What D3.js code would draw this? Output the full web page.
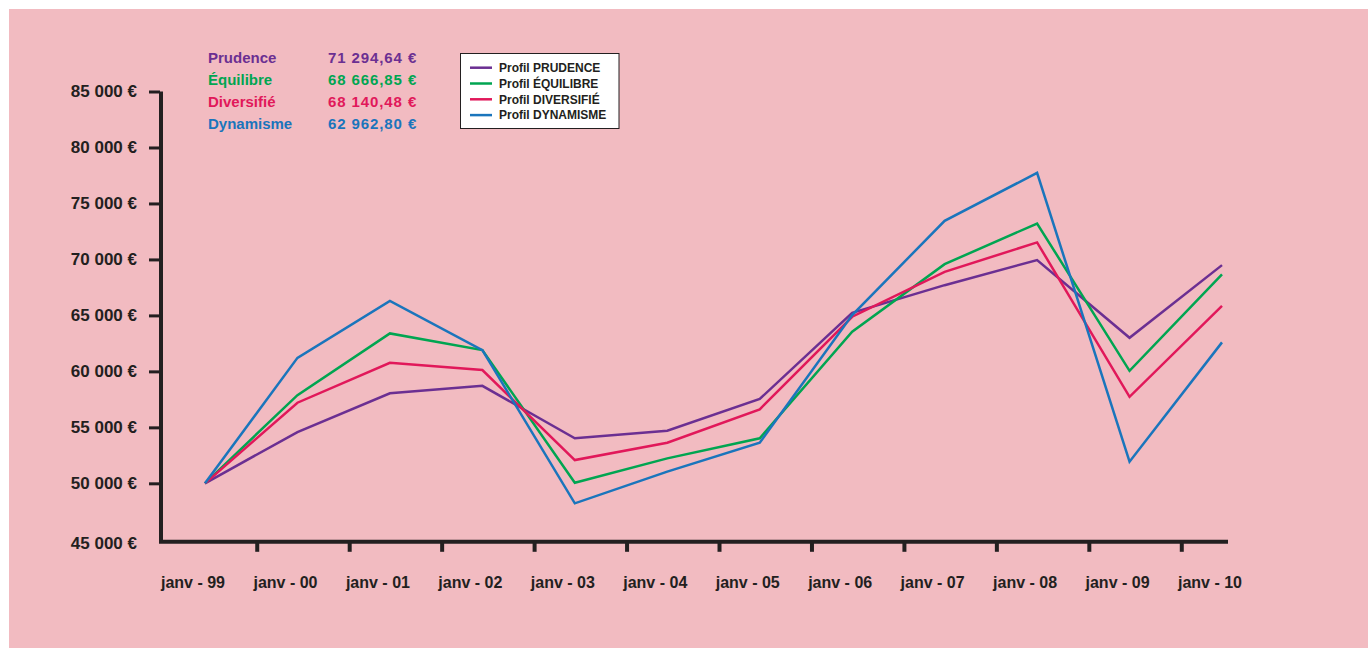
<!DOCTYPE html>
<html>
<head>
<meta charset="utf-8">
<script src="https://cdn.jsdelivr.net/npm/d3@7"></script>
<style>
    body { margin: 0; background: #fff; }
    svg { display: block; font-family: "Liberation Sans", Arial, sans-serif; font-weight: bold; }
</style>
</head>
<body>
<svg id="chart" width="1368" height="648"></svg>
<script>
const categories = ["janv - 99", "janv - 00", "janv - 01", "janv - 02", "janv - 03", "janv - 04",
    "janv - 05", "janv - 06", "janv - 07", "janv - 08", "janv - 09", "janv - 10"];

const prudence    = [50000, 54580, 58040, 58710, 54020, 54700, 57530, 65230, 67700, 69940, 63000, 69490];
const equilibre   = [50000, 57880, 63390, 61900, 50050, 52230, 54020, 63540, 69580, 73210, 60050, 68660];
const diversifie  = [50000, 57200, 60770, 60120, 52080, 53630, 56610, 64880, 68890, 71520, 57730, 65860];
const dynamisme   = [50000, 61210, 66300, 61900, 48210, 51040, 53630, 65030, 73450, 77730, 51930, 62590];

const seriesNames  = ["Prudence", "Équilibre", "Diversifié", "Dynamisme"];
const legendNames  = ["Profil PRUDENCE", "Profil ÉQUILIBRE", "Profil DIVERSIFIÉ", "Profil DYNAMISME"];
const finalValues  = ["71 294,64 €", "68 666,85 €", "68 140,48 €", "62 962,80 €"];
const colors       = ["#6b2f92", "#00a551", "#e1185a", "#1a75bc"];

const yTicks      = [45000, 50000, 55000, 60000, 65000, 70000, 75000, 80000, 85000];
const yTickLabels = ["45 000 €", "50 000 €", "55 000 €", "60 000 €", "65 000 €",
    "70 000 €", "75 000 €", "80 000 €", "85 000 €"];

const allSeries = [prudence, equilibre, diversifie, dynamisme];

const svg = d3.select("#chart");
const ink = "#231f20";

svg.append("rect")
    .attr("x", 9).attr("y", 9)
    .attr("width", 1359).attr("height", 639)
    .attr("fill", "#f2bbc1");

const x = d3.scalePoint().domain(categories).range([205, 1222]);
const y = d3.scaleLinear().domain([45000, 85000]).range([539.3, 91.5]);
const step = x.step();

// y axis
const yAxis = svg.append("g")
    .attr("transform", "translate(160,0)")
    .call(d3.axisLeft(y).tickValues(yTicks.slice(1)).tickSize(11).tickPadding(12)
        .tickFormat(function (d) { return yTickLabels[yTicks.indexOf(d)]; }));
yAxis.select(".domain").remove();
yAxis.selectAll(".tick line").attr("stroke", ink).attr("stroke-width", 3);
yAxis.selectAll(".tick text")
    .attr("fill", ink)
    .style("font-size", "17px")
    .style("font-weight", "bold")
    .style("font-family", "'Liberation Sans', Arial, sans-serif");

// 45 000 label sits on the x axis
svg.append("text")
    .attr("x", 137).attr("y", y(45000) + 4)
    .attr("dy", "0.32em")
    .attr("text-anchor", "end")
    .attr("fill", ink)
    .style("font-size", "17px")
    .text(yTickLabels[0]);

const axisY = y(45000) + 2.5;

// axis lines
svg.append("path")
    .attr("d", "M161," + y(85000) + "V" + axisY + "H1228")
    .attr("fill", "none")
    .attr("stroke", ink)
    .attr("stroke-width", 4);

// x ticks, offset between categories
svg.append("g").selectAll("line")
    .data(categories.slice(0, -1))
    .join("line")
    .attr("x1", function (d) { return x(d) + step * 0.565; })
    .attr("x2", function (d) { return x(d) + step * 0.565; })
    .attr("y1", axisY)
    .attr("y2", axisY + 10)
    .attr("stroke", ink)
    .attr("stroke-width", 4);

svg.append("g").selectAll("text")
    .data(categories)
    .join("text")
    .attr("x", function (d) { return x(d) - 12; })
    .attr("y", 588)
    .attr("text-anchor", "middle")
    .attr("fill", ink)
    .style("font-size", "16px")
    .text(function (d) { return d; });

// lines
const line = d3.line()
    .x(function (d, i) { return x(categories[i]); })
    .y(function (d) { return y(d); });

svg.append("g").selectAll("path")
    .data(allSeries)
    .join("path")
    .attr("d", line)
    .attr("fill", "none")
    .attr("stroke", function (d, i) { return colors[i]; })
    .attr("stroke-width", 2.5)
    .attr("stroke-linejoin", "miter");

// final values block
const info = svg.append("g");
seriesNames.forEach(function (name, i) {
    info.append("text")
        .attr("x", 208).attr("y", 63 + i * 21.9)
        .attr("fill", colors[i])
        .style("font-size", "15px")
        .text(name);
    info.append("text")
        .attr("x", 328).attr("y", 63 + i * 21.9)
        .attr("fill", colors[i])
        .style("font-size", "15px")
        .style("letter-spacing", "0.9px")
        .text(finalValues[i]);
});

// legend box
const legend = svg.append("g").attr("transform", "translate(460,53)");
legend.append("rect")
    .attr("x", 0.5).attr("y", 0.5)
    .attr("width", 158.5).attr("height", 75)
    .attr("fill", "#fff")
    .attr("stroke", ink)
    .attr("stroke-width", 1);

legendNames.forEach(function (name, i) {
    const ly = 14.7 + i * 15.8;
    legend.append("line")
        .attr("x1", 10).attr("x2", 32)
        .attr("y1", ly).attr("y2", ly)
        .attr("stroke", colors[i])
        .attr("stroke-width", 2.5);
    legend.append("text")
        .attr("x", 39).attr("y", ly)
        .attr("dy", "0.35em")
        .attr("fill", ink)
        .style("font-size", "12px")
        .text(name);
});
</script>
</body>
</html>
